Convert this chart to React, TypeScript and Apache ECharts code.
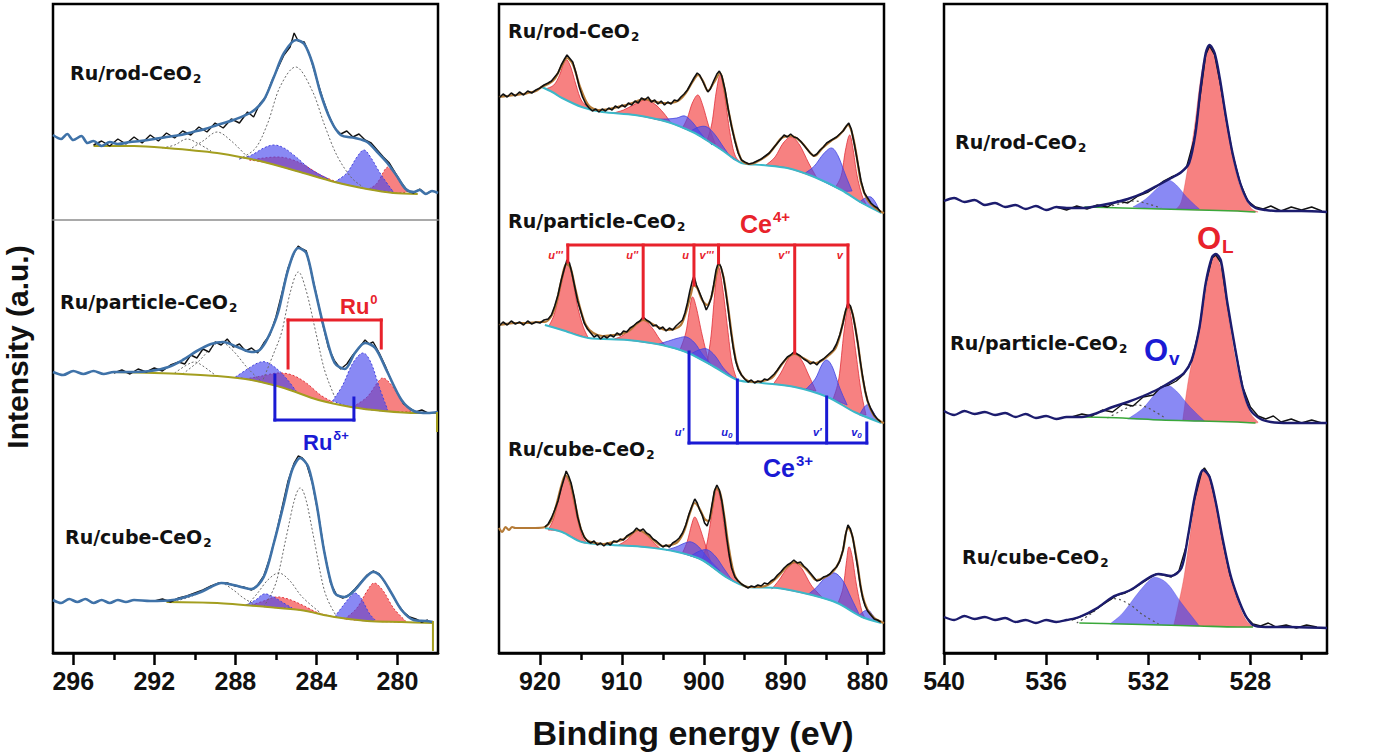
import React, { useEffect, useRef } from 'react';
import * as echarts from 'echarts';

type P = [number, number];

// ---------- axis ticks ----------
const ruTickLabels = [296, 292, 288, 284, 280];
const ruTickMinor = [294, 290, 286, 282];
const ceTickLabels = [920, 910, 900, 890, 880];
const ceTickMinor = [915, 905, 895, 885];
const oTickLabels = [540, 536, 532, 528];
const oTickMinor = [538, 534, 530, 526];

const sampleNames = ['Ru/rod-CeO', 'Ru/particle-CeO', 'Ru/cube-CeO'];

// ---------- Ru 3d / C 1s ----------
const ruRodFit: P[] = [[297,518],[296.6,514],[296.3,519],[296,513],[295.6,517],[295.3,510],[295,512],[294.6,507],[294.2,511],[293.8,509],[293.2,511],[292.7,512],[292,514],[291.4,516],[290.7,518],[290.1,521],[289.5,524],[288.9,528],[288.1,533],[287.2,541],[286.6,553],[286.1,576],[285.6,600],[285.0,613],[284.6,609],[284.2,590],[283.8,560],[283.3,533],[282.8,518],[282.1,515],[281.5,511],[281.0,501],[280.5,490],[280.0,476],[279.6,464],[279.2,461],[278.9,463],[278.6,459],[278.3,462],[278,460]];
const ruRodData: P[] = [[295.0,508],[294.6,512],[294.2,507],[293.8,514],[293.4,509],[293.0,516],[292.6,510],[292.2,518],[291.8,512],[291.4,520],[291.0,515],[290.6,522],[290.2,518],[289.8,526],[289.4,521],[289.0,530],[288.6,525],[288.2,534],[287.8,530],[287.4,541],[287.1,536],[286.8,549],[286.5,556],[286.2,572],[285.9,585],[285.6,598],[285.3,606],[285.1,620],[284.9,612],[284.6,611],[284.3,596],[284.0,575],[283.7,555],[283.4,538],[283.1,525],[282.8,519],[282.5,522],[282.2,516],[281.9,519],[281.6,513],[281.3,510],[281.0,503],[280.7,496],[280.4,490],[280.1,480],[279.8,470],[279.5,462],[279.2,460],[278.9,464],[278.6,459],[278.3,462]];
const ruRodBg: P[] = [[295.0,507],[293.0,507],[291.4,505],[288.9,500],[287.5,495],[286.4,490],[284.8,481],[283.1,471],[281.5,464],[280.2,460],[279.0,459]];
const ruRodDot: P[][] = [
  [[287.8,494],[287.0,505],[286.4,530],[285.8,566],[285.0,586],[284.2,562],[283.6,528],[283.0,498],[282.3,476],[281.7,466]],
  [[291.6,505],[291.0,508],[290.4,514],[289.8,509],[289.2,502]],
  [[290.3,503],[289.6,512],[288.9,521],[288.2,512],[287.4,496]],
];
const ruRodRu0: P[][] = [
  [[287.3,493],[286.6,495],[285.9,496],[285.3,494],[284.6,488],[283.8,478],[283.0,471]],
  [[281.4,464],[281.0,470],[280.6,484],[280.4,485],[280.1,478],[279.8,468],[279.5,461]],
];
const ruRodRuD: P[][] = [
  [[287.8,494],[287.2,498],[286.6,505],[286.1,508],[285.6,505],[285.0,496],[284.3,484],[283.4,474]],
  [[283.1,471],[282.5,480],[282.0,496],[281.65,503],[281.3,495],[280.8,478],[280.2,461]],
];

const ruPartFit: P[] = [[297,281],[296.5,278],[296,282],[295.5,279],[295,282],[294.5,279],[294,281],[293,281],[292.2,282],[291.3,286],[290.6,293],[289.9,302],[289.2,309],[288.6,311],[287.9,306],[287.2,301],[286.8,303],[286.4,315],[285.9,340],[285.4,383],[284.9,405],[284.5,400],[284.1,366],[283.6,323],[283.1,290],[282.6,284],[282.1,300],[281.6,310],[281.1,305],[280.5,281],[279.8,253],[279.2,242],[278.5,240],[278.0,241]];
const ruPartData: P[] = [[294,280],[293.6,283],[293.2,279],[292.8,284],[292.4,281],[292.0,285],[291.6,282],[291.2,288],[290.8,291],[290.5,289],[290.2,298],[289.9,295],[289.6,304],[289.3,301],[289.0,311],[288.7,308],[288.4,314],[288.1,306],[287.8,309],[287.5,302],[287.2,305],[286.9,300],[286.6,310],[286.3,318],[286.0,336],[285.7,360],[285.4,385],[285.1,400],[284.9,407],[284.7,404],[284.5,402],[284.3,385],[284.0,358],[283.7,330],[283.4,305],[283.1,292],[282.8,284],[282.5,289],[282.2,298],[281.9,305],[281.6,313],[281.4,309],[281.2,311],[280.9,300],[280.6,287],[280.3,272],[280.0,260],[279.7,249],[279.4,245],[279.1,241],[278.8,243],[278.5,240]];
const ruPartBg: P[] = [[294.0,281],[292.0,280],[290.6,279],[288.9,277],[287.2,273],[285.6,265],[283.9,253],[282.3,246],[280.7,242],[279.0,240],[278.05,240]];
const ruPartBgDrop: P[] = [[278.05,240],[278.05,222]];
const ruPartDot: P[][] = [
  [[286.7,270],[286.1,300],[285.7,322],[285.3,360],[284.9,381],[284.5,362],[284.0,318],[283.6,283],[283.1,256]],
  [[290.6,279],[289.8,292],[289.2,305],[288.7,311],[288.1,302],[287.4,285],[286.7,271]],
  [[291.0,280],[290.4,288],[290.0,291],[289.6,287],[289.0,278]],
];
const ruPartRu0: P[][] = [
  [[287.5,274],[286.7,277],[285.9,280],[285.2,278],[284.5,270],[283.8,258],[283.2,251]],
  [[282.2,246],[281.5,256],[281.0,270],[280.7,275],[280.3,268],[279.8,253],[279.3,241]],
];
const ruPartRuD: P[][] = [
  [[288.0,276],[287.4,284],[286.9,290],[286.5,291],[286.0,285],[285.5,275],[285.0,262]],
  [[283.2,252],[282.7,268],[282.2,290],[281.7,300],[281.3,290],[280.9,266],[280.5,244]],
];

const ruCubeFit: P[] = [[297,53],[296.6,50],[296.2,54],[295.8,51],[295.4,54],[295,50],[294.6,53],[294.2,50],[293.8,53],[293.4,51],[293,53],[292.2,52],[291.1,53],[290.3,57],[289.7,61],[289.2,66],[288.7,70],[288.1,68],[287.2,64],[286.6,76],[286.1,110],[285.6,150],[285.2,183],[284.8,195],[284.4,186],[284.0,150],[283.6,100],[283.1,60],[282.6,56],[282.1,63],[281.6,75],[281.2,81],[280.8,76],[280.3,60],[279.8,43],[279.2,33],[278.6,32],[278.25,31]];
const ruCubeData: P[] = [[292,52],[291.6,54],[291.2,51],[290.8,55],[290.4,57],[290,60],[289.6,63],[289.2,67],[288.8,70],[288.4,70],[288.0,67],[287.6,66],[287.2,63],[286.9,68],[286.6,77],[286.3,95],[286.0,118],[285.7,145],[285.4,172],[285.1,190],[284.9,197],[284.7,195],[284.5,190],[284.2,170],[283.9,138],[283.6,100],[283.3,70],[283.0,58],[282.7,55],[282.4,58],[282.1,64],[281.8,71],[281.5,78],[281.2,82],[280.9,79],[280.6,70],[280.3,60],[280.0,49],[279.7,41],[279.4,36],[279.1,34],[278.8,31],[278.5,33]];
const ruCubeBg: P[] = [[291.4,51],[288.9,50],[286.4,46],[284.8,43],[283.1,36],[281.5,32],[279.8,31],[278.25,30]];
const ruCubeBgDrop: P[] = [[278.25,31],[278.25,3]];
const ruCubeDot: P[][] = [
  [[286.6,46],[286.0,70],[285.5,115],[285.1,152],[284.8,165],[284.5,152],[284.1,112],[283.6,62],[283.0,36]],
  [[287.4,48],[286.9,60],[286.4,73],[285.85,80],[285.3,72],[284.7,56],[283.8,40]],
  [[290.9,52],[290.0,58],[289.3,66],[288.7,70],[288.1,63],[287.6,55],[287.0,48]],
];
const ruCubeRu0: P[][] = [
  [[287.2,48],[286.6,52],[286.0,56],[285.4,54],[284.7,48],[283.9,40],[283.1,36]],
  [[282.6,34],[282.0,45],[281.5,62],[281.15,70],[280.7,62],[280.2,45],[279.6,32]],
];
const ruCubeRuD: P[][] = [
  [[287.5,48],[287.0,53],[286.6,59],[286.2,57],[285.7,51],[285.2,45]],
  [[283.1,36],[282.7,47],[282.3,57],[282.1,60],[281.8,55],[281.4,40],[281.1,33]],
];

// ---------- Ce 3d ----------
const ceRodFit: P[] = [[925,556],[924,557],[923,558],[922,559],[921.5,560],[920.5,562],[919.8,566],[918.8,570],[918.2,574],[917.3,588],[916.7,595],[916.0,589],[915.1,566],[914.1,548],[912.9,543],[911.5,544],[910.5,546],[909.5,548],[908.4,551],[907.3,554],[906.3,552],[905.1,550],[904.0,550],[903.0,553],[902.2,560],[901.3,572],[900.7,578],[900.1,572],[899.5,562],[898.8,570],[898.0,580],[897.5,565],[897.0,543],[896.2,513],[895.4,493],[894.5,489],[893.8,490],[892.2,498],[891.2,508],[890.5,515],[889.3,517],[888.0,510],[887.0,500],[886.5,497],[885.5,505],[884.5,512],[883.7,516],[883.0,522],[882.4,528],[881.9,520],[881.4,500],[880.8,470],[880.0,453],[879.2,446],[878.3,441],[878.0,440]];
const ceRodData: P[] = [[925,555],[924.5,559],[924,556],[923.5,560],[923,557],[922.5,561],[922,558],[921.5,562],[921,560],[920.5,563],[920,565],[919.5,568],[919,570],[918.6,572],[918.2,576],[917.8,580],[917.4,588],[917.0,594],[916.7,598],[916.4,595],[916.0,591],[915.6,580],[915.2,566],[914.8,556],[914.4,549],[914.0,545],[913.6,542],[913.2,544],[912.8,541],[912.4,544],[912.0,542],[911.6,545],[911.2,543],[910.8,547],[910.4,545],[910.0,548],[909.6,546],[909.2,550],[908.8,548],[908.4,552],[908.0,550],[907.6,555],[907.2,553],[906.8,556],[906.4,551],[906.0,553],[905.6,549],[905.2,552],[904.8,548],[904.4,551],[904.0,549],[903.6,553],[903.2,552],[902.8,556],[902.4,559],[902.0,563],[901.6,569],[901.2,575],[900.8,580],[900.5,578],[900.2,573],[899.8,566],[899.5,561],[899.2,564],[898.8,572],[898.4,579],[898.1,582],[897.8,577],[897.4,563],[897.0,543],[896.6,526],[896.2,512],[895.8,500],[895.4,493],[895.0,491],[894.5,489],[894.0,490],[893.5,492],[893.0,494],[892.5,497],[892.0,500],[891.5,505],[891.0,510],[890.6,514],[890.2,518],[889.8,516],[889.4,519],[889.0,516],[888.6,515],[888.2,512],[887.8,508],[887.4,504],[887.0,500],[886.6,497],[886.2,499],[885.8,503],[885.4,506],[885.0,510],[884.6,512],[884.2,514],[883.8,516],[883.4,519],[883.0,522],[882.6,527],[882.3,530],[882.0,524],[881.6,508],[881.2,490],[880.8,472],[880.4,460],[880.0,455],[879.6,450],[879.2,447],[878.8,445],[878.4,441]];
const ceRodBg: P[] = [[919.8,566],[918.5,561],[917.3,555],[914.9,546],[912.4,541],[908.4,538],[904.4,531],[901.1,520],[899.5,512],[897.8,503],[895.4,490],[892.9,488],[889.8,485],[886.5,476],[883.2,463],[880.7,450],[878.3,440]];
const ceRodCe4: P[][] = [
  [[919.3,564],[918.3,568],[917.6,578],[917.1,590],[916.7,593],[916.2,585],[915.6,568],[914.9,552],[913.8,544]],
  [[911.0,540],[909.8,543],[908.6,548],[907.2,553],[906.0,549],[904.9,540],[904.0,530]],
  [[902.6,525],[902.0,535],[901.4,550],[900.7,558],[900.1,547],[899.4,527],[898.6,509]],
  [[899.6,512],[899.0,530],[898.5,560],[898.0,578],[897.5,560],[896.8,520],[896.2,498],[895.4,490]],
  [[892.4,488],[891.3,496],[890.3,510],[889.3,516],[888.3,508],[887.2,490],[886.2,475]],
  [[883.9,466],[883.2,478],[882.7,503],[882.2,518],[881.8,505],[881.3,478],[880.7,458],[880.2,449]],
];
const ceRodCe3: P[][] = [
  [[906.0,534],[904.5,534],[903.3,535],[902.3,537],[901.3,530],[900.2,518],[899.0,508]],
  [[901.6,522],[900.6,526],[899.6,526],[898.6,518],[897.6,506],[896.6,495],[895.8,492]],
  [[887.6,480],[886.5,487],[885.4,499],[884.4,505],[883.6,497],[882.7,478],[881.9,462]],
  [[881.0,451],[880.3,455],[879.6,456],[879.0,450],[878.5,441]],
];

const cePartFit: P[] = [[925,328],[923,330],[921.5,330],[920.2,331],[919.4,331],[918.6,337],[918.0,350],[917.4,372],[916.8,389],[916.3,386],[915.7,365],[915.1,345],[914.4,328],[913.5,320],[912.4,317],[911,318],[910,319],[909,323],[908.2,329],[907.4,333],[906.5,330],[905.6,326],[904.6,323],[903.6,324],[902.8,328],[902.2,340],[901.6,358],[901.2,368],[900.8,365],[900.2,353],[899.6,348],[899.0,358],[898.5,378],[898.1,388],[897.6,376],[897.1,350],[896.5,313],[896.0,290],[895.4,278],[894.6,272],[893.8,271],[892.8,272],[891.7,275],[890.8,285],[889.8,295],[888.9,299],[887.9,295],[887.0,291],[886.3,290],[885.5,293],[884.7,298],[883.9,305],[883.3,320],[882.8,338],[882.3,348],[881.8,338],[881.2,310],[880.6,275],[880.0,252],[879.2,237],[878.3,231],[878.0,230]];
const cePartData: P[] = [[925,327],[924.5,331],[924,328],[923.5,332],[923,329],[922.5,331],[922,328],[921.5,332],[921,329],[920.5,331],[920,330],[919.5,333],[919,334],[918.6,338],[918.2,347],[917.8,358],[917.4,373],[917.0,385],[916.7,393],[916.4,390],[916.1,380],[915.8,368],[915.4,352],[915.0,341],[914.6,330],[914.2,324],[913.8,320],[913.4,316],[913.0,318],[912.6,314],[912.2,317],[911.8,315],[911.4,318],[911.0,316],[910.6,320],[910.2,318],[909.8,322],[909.4,321],[909.0,325],[908.6,327],[908.2,330],[907.8,332],[907.4,336],[907.0,333],[906.6,331],[906.2,327],[905.8,328],[905.4,324],[905.0,326],[904.6,322],[904.2,325],[903.8,323],[903.4,327],[903.0,330],[902.6,333],[902.3,340],[902.0,350],[901.7,362],[901.4,372],[901.2,377],[900.9,368],[900.6,362],[900.3,356],[900.0,350],[899.7,343],[899.4,348],[899.1,355],[898.8,368],[898.5,383],[898.2,391],[897.9,386],[897.6,376],[897.3,360],[897.0,342],[896.7,322],[896.4,305],[896.1,292],[895.8,284],[895.4,278],[895.0,274],[894.6,271],[894.2,273],[893.8,270],[893.4,272],[893.0,271],[892.6,274],[892.2,273],[891.8,276],[891.4,279],[891.0,283],[890.6,288],[890.2,292],[889.8,296],[889.4,298],[889.0,301],[888.6,299],[888.2,297],[887.8,294],[887.4,292],[887.0,289],[886.6,291],[886.2,288],[885.8,292],[885.4,294],[885.0,297],[884.6,300],[884.2,303],[883.8,309],[883.4,318],[883.0,330],[882.7,342],[882.4,350],[882.1,347],[881.8,338],[881.5,325],[881.2,310],[880.9,292],[880.6,276],[880.3,262],[880.0,252],[879.6,244],[879.2,238],[878.8,234],[878.4,231]];
const cePartBg: P[] = [[919.4,328],[917.3,323],[914.1,315],[909.3,313],[905.1,308],[901.9,300],[898.7,286],[895.9,273],[892.9,270],[888.9,266],[884.9,256],[881.6,241],[878.3,230]];
const cePartCe4: P[][] = [
  [[918.9,327],[918.2,340],[917.5,365],[916.9,386],[916.6,390],[916.1,378],[915.5,350],[914.8,328],[914.1,315]],
  [[910.9,314],[909.8,318],[908.6,327],[907.4,333],[906.3,325],[905.4,314],[904.6,307]],
  [[902.9,303],[902.2,320],[901.8,340],[901.4,356],[900.9,345],[900.2,318],[899.4,291]],
  [[899.6,290],[899.1,318],[898.6,365],[898.2,386],[897.7,365],[897.1,325],[896.6,292],[896.0,274]],
  [[891.5,269],[890.6,280],[889.7,294],[888.9,300],[888.0,292],[887.2,278],[886.3,262]],
  [[884.2,254],[883.5,275],[882.9,320],[882.4,346],[882.0,335],[881.4,298],[880.8,262],[880.2,238]],
];
const cePartCe3: P[][] = [
  [[905.5,309],[904.3,312],[903.1,315],[902.1,316],[901.1,310],[900.1,298],[899.0,288]],
  [[901.6,299],[900.6,303],[899.6,304],[898.6,297],[897.6,285],[896.6,277],[895.8,273]],
  [[887.5,264],[886.4,274],[885.6,288],[885.0,293],[884.3,286],[883.4,265],[882.5,248]],
  [[881.0,238],[880.4,246],[879.9,248],[879.3,241],[878.7,232]],
];

const ceCubeFit: P[] = [[925,125],[924.6,121],[924.2,126],[923.8,123],[923.4,126],[923,125],[921.5,125],[920.6,125],[919.4,126],[918.6,133],[918.0,148],[917.4,167],[916.9,178],[916.3,170],[915.6,145],[915.0,124],[914.3,113],[913.2,110],[912.2,109],[911.0,111],[910.0,113],[909.0,118],[908.0,123],[907.0,119],[906.0,112],[905.0,107],[904.0,108],[903.2,111],[902.4,122],[901.7,140],[901.1,150],[900.5,144],[899.9,134],[899.4,132],[898.9,150],[898.5,165],[898.0,160],[897.5,137],[897.0,108],[896.4,82],[895.8,72],[894.6,66],[893.4,66],[892.2,68],[891.0,76],[890.0,85],[888.9,91],[887.8,86],[887.0,79],[886.3,73],[885.4,75],[884.4,80],[883.6,89],[883.0,103],[882.4,126],[881.9,118],[881.3,92],[880.7,60],[880.0,43],[879.2,35],[878.3,31],[878,30]];
const ceCubeData: P[] = [[919.4,126],[919.0,129],[918.6,135],[918.2,143],[917.8,152],[917.4,165],[917.0,176],[916.8,182],[916.5,177],[916.2,170],[915.8,155],[915.4,136],[915.0,124],[914.6,116],[914.2,112],[913.8,110],[913.4,112],[913.0,108],[912.6,110],[912.2,107],[911.8,110],[911.4,108],[911.0,112],[910.6,111],[910.2,114],[909.8,113],[909.4,117],[909.0,119],[908.6,121],[908.2,125],[907.8,122],[907.4,124],[907.0,120],[906.6,118],[906.2,114],[905.8,112],[905.4,109],[905.0,106],[904.6,108],[904.2,106],[903.8,110],[903.4,112],[903.0,115],[902.6,120],[902.2,128],[901.8,139],[901.4,148],[901.1,154],[900.8,150],[900.5,143],[900.2,138],[899.9,130],[899.6,127],[899.3,134],[899.0,148],[898.7,162],[898.4,168],[898.1,163],[897.8,152],[897.5,135],[897.2,115],[896.9,98],[896.6,85],[896.2,76],[895.8,72],[895.4,69],[895.0,67],[894.6,65],[894.2,67],[893.8,66],[893.4,68],[893.0,67],[892.6,70],[892.2,69],[891.8,72],[891.4,74],[891.0,78],[890.6,81],[890.2,85],[889.8,88],[889.4,90],[889.0,93],[888.6,90],[888.2,91],[887.8,87],[887.4,84],[887.0,80],[886.6,76],[886.2,72],[885.8,73],[885.4,76],[885.0,77],[884.6,79],[884.2,83],[883.8,86],[883.4,92],[883.0,103],[882.7,118],[882.4,128],[882.1,124],[881.8,115],[881.5,100],[881.2,85],[880.9,68],[880.6,55],[880.3,47],[880.0,42],[879.6,38],[879.2,34],[878.8,33],[878.4,31]];
const ceCubeBg: P[] = [[919.4,125],[917.3,121],[914.9,111],[911.2,108],[907.2,106],[903.2,101],[900.2,93],[897.1,75],[894.6,66],[891.0,65],[886.8,58],[883.7,50],[880.7,36],[878.3,30]];
const ceCubeCe4: P[][] = [
  [[919.0,123],[918.3,135],[917.6,158],[917.1,174],[916.8,177],[916.3,168],[915.6,140],[914.9,118],[914.3,110]],
  [[910.4,108],[909.4,113],[908.6,120],[908.0,123],[907.2,120],[906.3,112],[905.4,105]],
  [[902.6,100],[902.0,112],[901.5,128],[901.1,136],[900.6,128],[899.8,108],[899.0,87]],
  [[900.2,93],[899.6,110],[899.0,140],[898.5,163],[898.0,155],[897.3,115],[896.6,84],[895.8,71]],
  [[891.7,64],[890.8,73],[889.8,85],[888.9,90],[888.0,84],[886.9,68],[885.6,56]],
  [[883.6,50],[883.0,65],[882.6,90],[882.3,106],[881.9,97],[881.4,70],[880.8,45],[880.4,36]],
];
const ceCubeCe3: P[][] = [
  [[904.6,103],[903.4,106],[902.3,110],[901.5,111],[900.6,106],[899.5,95],[898.0,82]],
  [[901.6,97],[900.5,102],[899.5,103],[898.5,96],[897.5,84],[896.5,73],[895.6,69]],
  [[887.2,59],[886.2,66],[885.0,77],[884.0,80],[883.0,72],[882.0,55],[881.0,38]],
  [[881.0,38],[880.4,42],[879.9,43],[879.3,37],[878.7,31]],
];

// ---------- O 1s ----------
const oRodFit: P[] = [[540,452],[539.6,455],[539.2,451],[538.8,453],[538.4,448],[538,450],[537.6,446],[537.2,448],[536.8,444],[536.4,447],[536,443],[535.6,446],[535.2,445],[534.6,445],[534.0,447],[533.4,450],[532.8,454],[532.2,460],[531.6,468],[531.1,475],[530.7,481],[530.4,490],[530.15,520],[529.95,565],[529.75,600],[529.6,608],[529.4,600],[529.2,575],[528.95,535],[528.7,500],[528.4,470],[528.1,452],[527.8,445],[527.4,443],[527,442],[526,442],[525,441]];
const oRodData: P[] = [[535.6,446],[535.2,443],[534.8,447],[534.4,444],[534.0,448],[533.6,446],[533.2,452],[532.8,450],[532.4,457],[532.0,461],[531.7,466],[531.4,472],[531.1,476],[530.8,479],[530.5,486],[530.2,514],[529.95,560],[529.75,598],[529.6,607],[529.4,598],[529.2,572],[528.95,534],[528.7,499],[528.4,470],[528.1,452],[527.8,446],[527.5,444],[527.2,447],[526.8,442],[526.4,446],[526.0,443],[525.6,446],[525.2,442]];
const oRodBg: P[] = [[534.5,446],[533.0,445],[531.5,444],[530.0,443],[528.5,442],[527.8,441]];
const oRodOL: P[] = [[530.9,444],[530.7,452],[530.5,478],[530.2,524],[530.0,565],[529.8,595],[529.6,606],[529.4,598],[529.2,572],[528.95,532],[528.7,496],[528.4,466],[528.0,446],[527.7,441]];
const oRodOV: P[] = [[532.6,446],[532.1,454],[531.6,466],[531.25,473],[530.9,468],[530.5,456],[530.0,444]];
const oRodDot: P[] = [[533.6,446],[533.0,450],[532.5,452],[532.0,449],[531.5,445]];

const oPartFit: P[] = [[540,242],[539.6,238],[539.2,242],[538.8,239],[538.4,241],[538,238],[537.6,240],[537.2,236],[536.8,239],[536.4,235],[536.0,237],[535.6,234],[535.2,236],[534.6,236],[534.0,240],[533.4,246],[532.8,251],[532.2,257],[531.6,264],[531.0,273],[530.6,280],[530.3,293],[530.0,325],[529.75,370],[529.5,396],[529.35,399],[529.15,392],[528.9,350],[528.6,305],[528.3,265],[528.0,243],[527.6,234],[527.2,231],[526.5,230],[525,230]];
const oPartData: P[] = [[535.0,236],[534.6,239],[534.2,237],[533.8,243],[533.4,241],[533.0,249],[532.6,247],[532.2,256],[531.8,258],[531.5,266],[531.2,268],[530.9,272],[530.6,279],[530.3,292],[530.0,324],[529.75,369],[529.5,395],[529.35,398],[529.15,390],[528.9,348],[528.6,304],[528.3,266],[528.0,246],[527.7,237],[527.4,234],[527.1,237],[526.8,231],[526.4,234],[526.0,230],[525.6,233],[525.2,230]];
const oPartBg: P[] = [[534.5,236],[533.0,235],[531.5,233],[530.0,232],[528.5,231],[527.8,230]];
const oPartOL: P[] = [[530.65,233],[530.4,277],[530.1,312],[529.85,345],[529.6,385],[529.45,398],[529.3,395],[529.1,378],[528.85,335],[528.6,295],[528.3,260],[528.0,240],[527.7,231]];
const oPartOV: P[] = [[532.8,234],[532.2,245],[531.7,260],[531.3,268],[530.9,262],[530.4,247],[529.8,232]];
const oPartDot: P[] = [[533.6,235],[533.0,243],[532.5,248],[532.0,245],[531.4,236]];

const oCubeFit: P[] = [[540,36],[539.6,33],[539.2,37],[538.8,34],[538.4,36],[538,33],[537.6,35],[537.2,31],[536.8,33],[536.4,30],[536.0,33],[535.6,31],[535.2,33],[534.7,36],[534.0,45],[533.4,56],[532.7,63],[532.0,75],[531.6,79],[531.1,77],[530.7,85],[530.45,116],[530.15,160],[529.85,183],[529.6,176],[529.35,150],[529.1,116],[528.8,80],[528.5,56],[528.2,38],[527.9,28],[527.4,26],[526.5,26],[525,25]];
const oCubeData: P[] = [[535.0,33],[534.6,37],[534.2,41],[533.8,48],[533.5,53],[533.2,58],[532.9,60],[532.6,64],[532.3,69],[532.0,74],[531.7,79],[531.4,78],[531.1,76],[530.8,82],[530.5,108],[530.2,152],[529.9,182],[529.8,185],[529.6,177],[529.35,150],[529.1,114],[528.8,78],[528.5,55],[528.2,37],[527.9,29],[527.6,27],[527.3,30],[527.0,26],[526.6,28],[526.2,25],[525.8,28],[525.4,26]];
const oCubeBg: P[] = [[534.7,30],[533.0,29],[531.5,28],[530.0,27],[528.5,26],[527.9,26]];
const oCubeOL: P[] = [[531.0,28],[530.85,45],[530.6,76],[530.35,120],[530.08,166],[529.85,183],[529.6,176],[529.35,150],[529.1,114],[528.8,78],[528.5,52],[528.2,34],[527.9,26]];
const oCubeOV: P[] = [[533.5,29],[533.0,40],[532.4,60],[531.9,74],[531.6,75],[531.2,68],[530.7,50],[530.0,27]];
const oCubeDot: P[] = [[534.8,30],[534.2,40],[533.6,52],[533.2,54],[532.7,48],[532.2,38],[531.6,29]];

// ---------- annotation positions (binding energy, intensity) ----------
const panel1Separator: P[] = [[297,433],[278,433]];
const ru0Pos = [285.4, 280.8];
const ru0Ends = [285, 305];
const ru0Level = 333;
const ruDPos = [286.05, 282.15];
const ruDEnds = [278, 255];
const ruDLevel = 233;
const ce4Pos = [916.6, 907.4, 901.2, 898.2, 888.9, 882.4];
const ce4Names = ["u'''", "u''", 'u', "v'''", "v''", 'v'];
const ce4Ends = [391, 335, 368, 390, 300, 346];
const ce4Level = 408;
const ce4LabelLevel = 398;
const ce3Pos = [901.8, 895.9, 885.0, 880.1];
const ce3Names = ["u'", 'u|0', "v'", 'v|0'];
const ce3Ends = [301, 273, 256, 230];
const ce3Level = 210;
const ce3LabelLevel = 221;

// ---------- styles ----------
const RED_FILL = 'rgba(243,70,70,0.68)';
const RED_EDGE = '#e0303a';
const BLUE_FILL = 'rgba(70,70,238,0.64)';
const BLUE_EDGE = '#4444dd';
const BR_RED = '#e8222b';
const BR_BLUE = '#1a1ad4';

function catmull(pts: number[][], move: boolean): string {
  let d = move ? `M${pts[0][0]},${pts[0][1]}` : '';
  for (let i = 0; i < pts.length - 1; i++) {
    const p0 = pts[i - 1] || pts[i];
    const p1 = pts[i];
    const p2 = pts[i + 1];
    const p3 = pts[i + 2] || p2;
    const c1x = p1[0] + (p2[0] - p0[0]) / 6, c1y = p1[1] + (p2[1] - p0[1]) / 6;
    const c2x = p2[0] - (p3[0] - p1[0]) / 6, c2y = p2[1] - (p3[1] - p1[1]) / 6;
    d += `C${c1x},${c1y},${c2x},${c2y},${p2[0]},${p2[1]}`;
  }
  return d;
}

interface Comp { pts: P[]; bg: P[] | null; fill: string; stroke: string; dash: number[] | null; width: number }

function compSeries(g: number, comps: Comp[], z: number) {
  return {
    type: 'custom', xAxisIndex: 2 * g, yAxisIndex: g, z, silent: true,
    data: comps.map((c) => [c.pts[0][0], c.pts[0][1]]),
    encode: { x: 0, y: 1 },
    renderItem: (params: any, api: any) => {
      const c = comps[params.dataIndex];
      const top = c.pts.map((p) => api.coord(p));
      let d = catmull(top, true);
      if (c.bg) {
        const a = c.pts[0][0], b = c.pts[c.pts.length - 1][0];
        const lo = Math.min(a, b), hi = Math.max(a, b);
        const inner = c.bg.filter((p) => p[0] > lo && p[0] < hi).sort((p, q) => p[0] - q[0]).map((p) => api.coord(p));
        const bottom = [top[top.length - 1], ...inner, top[0]];
        d += catmull(bottom, false) + 'Z';
      }
      return {
        type: 'path', shape: { pathData: d },
        style: { fill: c.fill, stroke: c.stroke, lineWidth: c.width, lineDash: c.dash || undefined },
      };
    },
  };
}

interface Seg { a: P; b: P; color: string; width: number }
function segSeries(g: number, segs: Seg[]) {
  return {
    type: 'custom', xAxisIndex: 2 * g, yAxisIndex: g, z: 20, silent: true,
    data: segs.map((s) => [s.a[0], s.a[1], s.b[0], s.b[1]]),
    encode: { x: [0, 2], y: [1, 3] },
    renderItem: (params: any, api: any) => {
      const s = segs[params.dataIndex];
      const p1 = api.coord(s.a), p2 = api.coord(s.b);
      return { type: 'line', shape: { x1: p1[0], y1: p1[1], x2: p2[0], y2: p2[1] }, style: { stroke: s.color, lineWidth: s.width, lineCap: 'square' } };
    },
  };
}

interface Lab { pos: P; text: string; color: string }
function labelSeries(g: number, labs: Lab[]) {
  return {
    type: 'custom', xAxisIndex: 2 * g, yAxisIndex: g, z: 21, silent: true,
    data: labs.map((l) => [l.pos[0], l.pos[1]]),
    encode: { x: 0, y: 1 },
    renderItem: (params: any, api: any) => {
      const l = labs[params.dataIndex];
      const p = api.coord(l.pos);
      const parts = l.text.split('|');
      const txt = parts.length > 1 ? `{m|${parts[0]}}{s|${parts[1]}}` : `{m|${parts[0]}}`;
      return {
        type: 'text', x: p[0] - 5, y: p[1],
        style: {
          text: txt, align: 'right', verticalAlign: 'middle',
          rich: {
            m: { fill: l.color, fontSize: 11, fontWeight: 'bold', fontStyle: 'italic', fontFamily: 'Liberation Sans' },
            s: { fill: l.color, fontSize: 8, fontWeight: 'bold', fontStyle: 'italic', fontFamily: 'Liberation Sans', padding: [7, 0, 0, 0] },
          },
        },
      };
    },
  };
}

function lineS(g: number, data: P[], color: string, width: number, smooth: number, z: number) {
  return {
    type: 'line', xAxisIndex: 2 * g, yAxisIndex: g, data, z, silent: true,
    symbol: 'none', showSymbol: false, smooth, lineStyle: { color, width }, animation: false,
  };
}

function axesFor(g: number, min: number, max: number, labels: number[], minors: number[]) {
  return [
    {
      type: 'value', gridIndex: g, min, max, inverse: true, position: 'bottom',
      axisLine: { show: true, onZero: false, lineStyle: { color: '#000', width: 2.5 } },
      axisTick: { show: true, inside: false, length: 12, lineStyle: { color: '#000', width: 2.5 }, customValues: labels },
      axisLabel: { show: true, customValues: labels, margin: 15, color: '#111', fontSize: 25, fontWeight: 'bold', fontFamily: 'Liberation Sans' },
      splitLine: { show: false },
    },
    {
      type: 'value', gridIndex: g, min, max, inverse: true, position: 'bottom',
      axisLine: { show: false, onZero: false },
      axisTick: { show: true, inside: false, length: 7, lineStyle: { color: '#000', width: 2.5 }, customValues: minors },
      axisLabel: { show: false },
      splitLine: { show: false },
    },
  ];
}

function sampleLabel(x: number, y: number, name: string) {
  return {
    type: 'text', x, y, z: 100,
    style: {
      text: `{a|${name}}{b|2}`, align: 'left', verticalAlign: 'middle',
      rich: {
        a: { fill: '#111', fontSize: 19, fontWeight: 'bold', fontFamily: 'DejaVu Sans' },
        b: { fill: '#111', fontSize: 12, fontWeight: 'bold', fontFamily: 'DejaVu Sans', padding: [12, 0, 0, 1] },
      },
    },
  };
}

function supLabel(x: number, y: number, main: string, sup: string, color: string, size: number, supSize: number, down: boolean) {
  return {
    type: 'text', x, y, z: 100,
    style: {
      text: `{a|${main}}{b|${sup}}`, align: 'left', verticalAlign: 'middle',
      rich: {
        a: { fill: color, fontSize: size, fontWeight: 'bold', fontFamily: 'Liberation Sans' },
        b: { fill: color, fontSize: supSize, fontWeight: 'bold', fontFamily: 'Liberation Sans', padding: down ? [Math.round(size * 0.55), 0, 0, 1] : [0, 0, Math.round(size * 0.6), 1] },
      },
    },
  };
}

function ruComps(red: P[][], blue: P[][], dots: P[][], bg: P[]): Comp[] {
  return [
    ...red.map((pts) => ({ pts, bg, fill: RED_FILL, stroke: RED_EDGE, dash: [2, 2], width: 1 })),
    ...blue.map((pts) => ({ pts, bg, fill: BLUE_FILL, stroke: BLUE_EDGE, dash: [2, 2], width: 1 })),
    ...dots.map((pts) => ({ pts, bg: null, fill: 'none', stroke: '#6a6a6a', dash: [2, 2], width: 1 })),
  ];
}
function ceComps(red: P[][], blue: P[][], bg: P[]): Comp[] {
  return [
    ...red.map((pts) => ({ pts, bg, fill: RED_FILL, stroke: RED_EDGE, dash: null, width: 0.8 })),
    ...blue.map((pts) => ({ pts, bg, fill: BLUE_FILL, stroke: BLUE_EDGE, dash: null, width: 0.8 })),
  ];
}
function oComps(ol: P, ov: P[], dot: P[], bg: P[]): Comp[];
function oComps(ol: any, ov: any, dot: any, bg: any): Comp[] {
  return [
    { pts: ol, bg, fill: RED_FILL, stroke: 'rgba(230,60,60,0.6)', dash: null, width: 0.6 },
    { pts: ov, bg, fill: BLUE_FILL, stroke: 'rgba(60,60,230,0.6)', dash: null, width: 0.6 },
    { pts: dot, bg: null, fill: 'none', stroke: '#555', dash: [2, 3], width: 1.2 },
  ];
}

function buildOption() {
  const series: any[] = [];
  // Panel 1
  const ruSets = [
    { fit: ruRodFit, data: ruRodData, bg: ruRodBg, red: ruRodRu0, blue: ruRodRuD, dot: ruRodDot },
    { fit: ruPartFit, data: ruPartData, bg: ruPartBg, red: ruPartRu0, blue: ruPartRuD, dot: ruPartDot },
    { fit: ruCubeFit, data: ruCubeData, bg: ruCubeBg, red: ruCubeRu0, blue: ruCubeRuD, dot: ruCubeDot },
  ];
  ruSets.forEach((s) => {
    series.push(compSeries(0, ruComps(s.red, s.blue, s.dot, s.bg), 3));
    series.push(lineS(0, s.bg, '#a39e1f', 2, 0.3, 5));
    series.push(lineS(0, s.data, '#111', 1.4, 0, 6));
    series.push(lineS(0, s.fit, '#3f72a8', 2.6, 0.3, 7));
  });
  // Panel 2
  const ceSets = [
    { fit: ceRodFit, data: ceRodData, bg: ceRodBg, red: ceRodCe4, blue: ceRodCe3 },
    { fit: cePartFit, data: cePartData, bg: cePartBg, red: cePartCe4, blue: cePartCe3 },
    { fit: ceCubeFit, data: ceCubeData, bg: ceCubeBg, red: ceCubeCe4, blue: ceCubeCe3 },
  ];
  ceSets.forEach((s) => {
    series.push(compSeries(1, ceComps(s.red, s.blue, s.bg), 3));
    series.push(lineS(1, s.bg, '#3bb8c9', 2, 0.3, 5));
    series.push(lineS(1, s.fit, '#b47a36', 2.2, 0.3, 6));
    series.push(lineS(1, s.data, '#111', 1.6, 0, 7));
  });
  // Panel 3
  const oSets = [
    { fit: oRodFit, data: oRodData, bg: oRodBg, ol: oRodOL, ov: oRodOV, dot: oRodDot },
    { fit: oPartFit, data: oPartData, bg: oPartBg, ol: oPartOL, ov: oPartOV, dot: oPartDot },
    { fit: oCubeFit, data: oCubeData, bg: oCubeBg, ol: oCubeOL, ov: oCubeOV, dot: oCubeDot },
  ];
  oSets.forEach((s) => {
    series.push(compSeries(2, oComps(s.ol, s.ov, s.dot, s.bg), 3));
    series.push(lineS(2, s.bg, '#3aa83a', 1.6, 0.3, 5));
    series.push(lineS(2, s.data, '#111', 1.4, 0, 6));
    series.push(lineS(2, s.fit, '#1c1c6e', 2.4, 0.3, 7));
  });

  // brackets, separators
  const segs0: Seg[] = [
    { a: panel1Separator[0], b: panel1Separator[1], color: '#8c8c8c', width: 1.5 },
    { a: ruPartBgDrop[0], b: ruPartBgDrop[1], color: '#a39e1f', width: 2 },
    { a: ruCubeBgDrop[0], b: ruCubeBgDrop[1], color: '#a39e1f', width: 2 },
    { a: [ru0Pos[0], ru0Ends[0]], b: [ru0Pos[0], ru0Level], color: BR_RED, width: 3 },
    { a: [ru0Pos[0], ru0Level], b: [ru0Pos[1], ru0Level], color: BR_RED, width: 3 },
    { a: [ru0Pos[1], ru0Level], b: [ru0Pos[1], ru0Ends[1]], color: BR_RED, width: 3 },
    { a: [ruDPos[0], ruDEnds[0]], b: [ruDPos[0], ruDLevel], color: BR_BLUE, width: 3 },
    { a: [ruDPos[0], ruDLevel], b: [ruDPos[1], ruDLevel], color: BR_BLUE, width: 3 },
    { a: [ruDPos[1], ruDLevel], b: [ruDPos[1], ruDEnds[1]], color: BR_BLUE, width: 3 },
  ];
  series.push(segSeries(0, segs0));
  const segs1: Seg[] = [
    { a: [ce4Pos[0], ce4Level], b: [ce4Pos[ce4Pos.length - 1], ce4Level], color: BR_RED, width: 3 },
    ...ce4Pos.map((e, i) => ({ a: [e, ce4Level] as P, b: [e, ce4Ends[i]] as P, color: BR_RED, width: 3 })),
    { a: [ce3Pos[0], ce3Level], b: [ce3Pos[ce3Pos.length - 1], ce3Level], color: BR_BLUE, width: 3 },
    ...ce3Pos.map((e, i) => ({ a: [e, ce3Level] as P, b: [e, ce3Ends[i]] as P, color: BR_BLUE, width: 3 })),
  ];
  series.push(segSeries(1, segs1));
  series.push(labelSeries(1, [
    ...ce4Pos.map((e, i) => ({ pos: [e, ce4LabelLevel] as P, text: ce4Names[i], color: BR_RED })),
    ...ce3Pos.map((e, i) => ({ pos: [e, ce3LabelLevel] as P, text: ce3Names[i], color: BR_BLUE })),
  ]));

  const gridBase = { show: true, borderColor: '#000', borderWidth: 2.5, backgroundColor: 'transparent' };
  return {
    animation: false,
    backgroundColor: '#ffffff',
    grid: [
      { ...gridBase, left: 53, top: 4, width: 385, height: 649 },
      { ...gridBase, left: 499, top: 4, width: 385, height: 649 },
      { ...gridBase, left: 944, top: 4, width: 383, height: 649 },
    ],
    xAxis: [
      ...axesFor(0, 278, 297, ruTickLabels, ruTickMinor),
      ...axesFor(1, 878, 925, ceTickLabels, ceTickMinor),
      ...axesFor(2, 525, 540, oTickLabels, oTickMinor),
    ],
    yAxis: [0, 1, 2].map((i) => ({ type: 'value', gridIndex: i, min: 0, max: 649, show: false })),
    series,
    graphic: [
      sampleLabel(70, 73, sampleNames[0]),
      sampleLabel(60, 302, sampleNames[1]),
      sampleLabel(65, 537, sampleNames[2]),
      sampleLabel(508, 31, sampleNames[0]),
      sampleLabel(508, 221, sampleNames[1]),
      sampleLabel(508, 449, sampleNames[2]),
      sampleLabel(955, 142, sampleNames[0]),
      sampleLabel(950, 343, sampleNames[1]),
      sampleLabel(962, 557, sampleNames[2]),
      supLabel(340, 306, 'Ru', '0', BR_RED, 22, 13, false),
      supLabel(303, 442, 'Ru', 'δ+', BR_BLUE, 22, 13, false),
      supLabel(740, 224, 'Ce', '4+', BR_RED, 25, 15, false),
      supLabel(763, 468, 'Ce', '3+', BR_BLUE, 25, 15, false),
      supLabel(1197, 238, 'O', 'L', BR_RED, 31, 19, true),
      supLabel(1144, 350, 'O', 'v', BR_BLUE, 31, 19, true),
      {
        type: 'text', x: 17, y: 347, rotation: Math.PI / 2, z: 100,
        style: { text: 'Intensity (a.u.)', align: 'center', verticalAlign: 'middle', fill: '#111', font: 'bold 30px "Liberation Sans"' },
      },
      {
        type: 'text', x: 693, y: 733, z: 100,
        style: { text: 'Binding energy (eV)', align: 'center', verticalAlign: 'middle', fill: '#111', font: 'bold 34px "Liberation Sans"' },
      },
    ],
  };
}

export default function App() {
  const ref = useRef<HTMLDivElement>(null);
  useEffect(() => {
    if (!ref.current) return;
    const chart = echarts.init(ref.current, undefined, { renderer: 'svg' });
    chart.setOption(buildOption() as any);
    return () => chart.dispose();
  }, []);
  return <div ref={ref} style={{ position: 'fixed', left: 0, top: 0, width: 1379, height: 754, background: '#fff' }} />;
}
